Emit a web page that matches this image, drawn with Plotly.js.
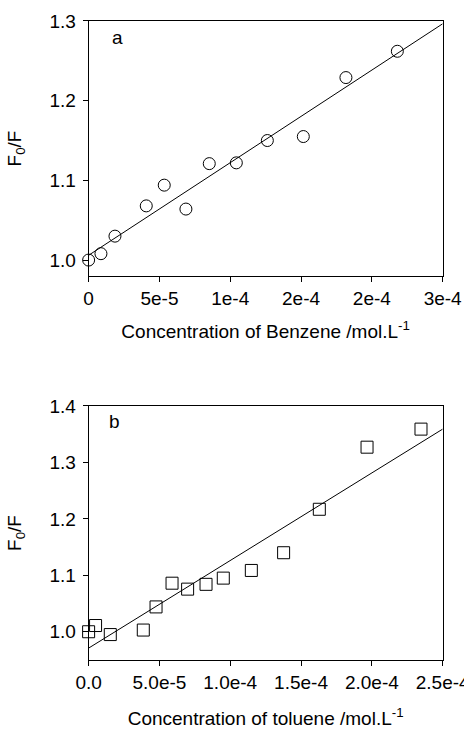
<!DOCTYPE html>
<html>
<head>
<meta charset="utf-8">
<script src="https://cdn.plot.ly/plotly-3.0.1.min.js"></script>
<style>html,body{margin:0;padding:0;background:#fff;}#chart{width:464px;height:729px;}</style>
</head>
<body>
<div id="chart"></div>
<script>
// Panel a: benzene
const benzeneConc = [0, 0.87e-5, 1.86e-5, 4.07e-5, 5.34e-5, 6.87e-5, 8.52e-5, 1.043e-4, 1.262e-4, 1.516e-4, 1.817e-4, 2.18e-4];
const benzeneF0F = [1.000, 1.008, 1.030, 1.068, 1.094, 1.064, 1.121, 1.122, 1.150, 1.155, 1.229, 1.262];
const benzeneFitX = [0, 2.5e-4];
const benzeneFitY = [1.006, 1.2965];
const benzeneTickVals = [0, 5e-5, 1e-4, 1.5e-4, 2e-4, 2.5e-4];
const benzeneTickText = ["0", "5e-5", "1e-4", "2e-4", "2e-4", "3e-4"];
const benzeneYTicks = [1.0, 1.1, 1.2, 1.3];
const benzeneYText = ["1.0", "1.1", "1.2", "1.3"];

// Panel b: toluene
const tolueneConc = [0, 0.49e-5, 1.53e-5, 3.86e-5, 4.76e-5, 5.89e-5, 6.99e-5, 8.29e-5, 9.51e-5, 1.149e-4, 1.377e-4, 1.629e-4, 1.966e-4, 2.347e-4];
const tolueneF0F = [1.000, 1.011, 0.995, 1.003, 1.044, 1.086, 1.0755, 1.084, 1.095, 1.1086, 1.140, 1.217, 1.327, 1.359];
const tolueneFitX = [0, 2.5e-4];
const tolueneFitY = [0.971, 1.359];
const tolueneTickVals = [0, 5e-5, 1e-4, 1.5e-4, 2e-4, 2.5e-4];
const tolueneTickText = ["0.0", "5.0e-5", "1.0e-4", "1.5e-4", "2.0e-4", "2.5e-4"];
const tolueneYTicks = [1.0, 1.1, 1.2, 1.3, 1.4];
const tolueneYText = ["1.0", "1.1", "1.2", "1.3", "1.4"];

const FONT = "Liberation Sans, Arial, sans-serif";
const FS = 19;

const traces = [
  {x: benzeneFitX, y: benzeneFitY, mode: "lines", line: {color: "#000", width: 1}, xaxis: "x", yaxis: "y", hoverinfo: "skip"},
  {x: benzeneConc, y: benzeneF0F, mode: "markers", cliponaxis: false,
   marker: {symbol: "circle-open", size: 12, color: "#000", line: {width: 1, color: "#000"}}, xaxis: "x", yaxis: "y"},
  {x: tolueneFitX, y: tolueneFitY, mode: "lines", line: {color: "#000", width: 1}, xaxis: "x2", yaxis: "y2", hoverinfo: "skip"},
  {x: tolueneConc, y: tolueneF0F, mode: "markers", cliponaxis: false,
   marker: {symbol: "square-open", size: 12, color: "#000", line: {width: 1, color: "#000"}}, xaxis: "x2", yaxis: "y2"}
];

const axisCommon = {
  showline: true, linecolor: "#000", linewidth: 1, mirror: true,
  ticks: "outside", ticklen: 5, tickwidth: 1, tickcolor: "#000",
  showgrid: false, zeroline: false,
  tickfont: {family: FONT, size: FS, color: "#000"},
  ticklabeloverflow: "allow",
  automargin: false
};

const layout = {
  width: 464, height: 729,
  margin: {l: 0, r: 0, t: 0, b: 0},
  paper_bgcolor: "#fff", plot_bgcolor: "#fff",
  showlegend: false,
  font: {family: FONT, size: FS, color: "#000"},
  xaxis: Object.assign({}, axisCommon, {
    domain: [0.191, 0.954], range: [0, 2.5e-4], anchor: "y",
    tickmode: "array", tickvals: benzeneTickVals, ticktext: benzeneTickText,
    title: {text: "Concentration of Benzene /mol.L<sup>-1</sup>", font: {family: FONT, size: FS}, standoff: 16}
  }),
  yaxis: Object.assign({}, axisCommon, {
    domain: [0.6214, 0.9712], range: [0.98, 1.3], anchor: "x",
    tickmode: "array", tickvals: benzeneYTicks, ticktext: benzeneYText,
    ticklabelstandoff: 3,
    title: {text: "F<sub>0</sub>/F", font: {family: FONT, size: FS}, standoff: 22}
  }),
  xaxis2: Object.assign({}, axisCommon, {
    domain: [0.191, 0.954], range: [0, 2.5e-4], anchor: "y2",
    tickmode: "array", tickvals: tolueneTickVals, ticktext: tolueneTickText,
    title: {text: "Concentration of toluene /mol.L<sup>-1</sup>", font: {family: FONT, size: FS}, standoff: 20}
  }),
  yaxis2: Object.assign({}, axisCommon, {
    domain: [0.0947, 0.4431], range: [0.95, 1.4], anchor: "x2",
    tickmode: "array", tickvals: tolueneYTicks, ticktext: tolueneYText,
    ticklabelstandoff: 3,
    title: {text: "F<sub>0</sub>/F", font: {family: FONT, size: FS}, standoff: 22}
  }),
  annotations: [
    {text: "a", xref: "x", yref: "y", x: 2.07e-5, y: 1.2787, showarrow: false, font: {family: FONT, size: FS}},
    {text: "b", xref: "x2", yref: "y2", x: 1.86e-5, y: 1.372, showarrow: false, font: {family: FONT, size: FS}}
  ]
};

Plotly.newPlot("chart", traces, layout, {staticPlot: true, displayModeBar: false});
</script>
</body>
</html>
